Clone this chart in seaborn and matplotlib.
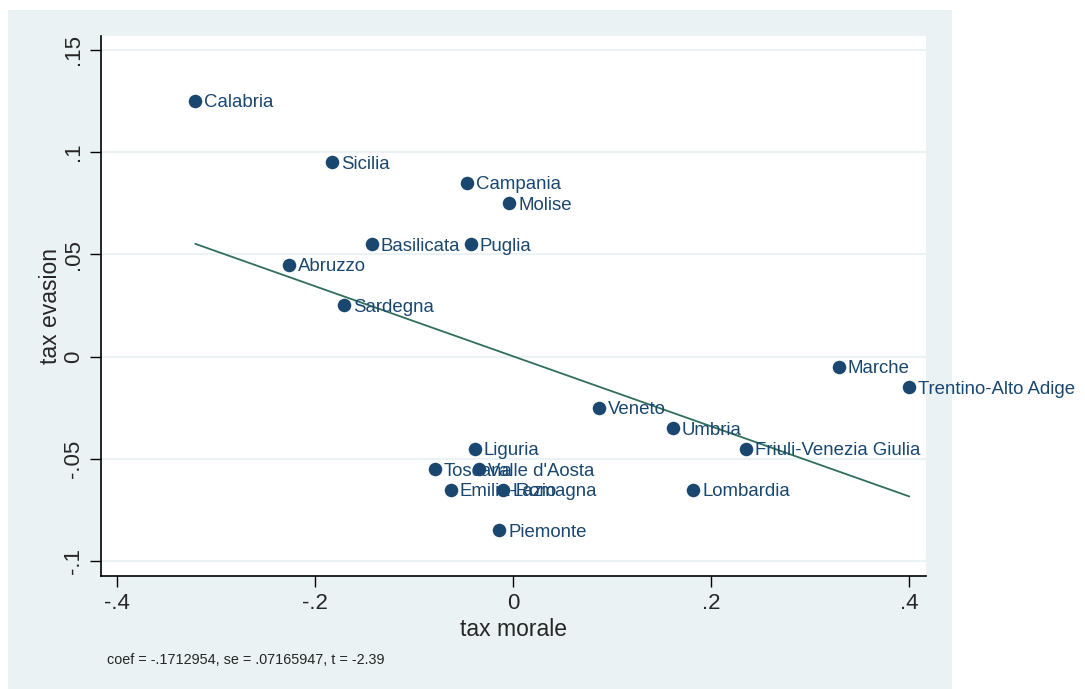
import numpy as np
import pandas as pd
import matplotlib.pyplot as plt
import seaborn as sns
from matplotlib.patches import Rectangle

regions = ['Calabria', 'Sicilia', 'Campania', 'Molise', 'Basilicata', 'Puglia',
           'Abruzzo', 'Sardegna', 'Marche', 'Trentino-Alto Adige', 'Veneto',
           'Umbria', 'Friuli-Venezia Giulia', 'Liguria', 'Toscana',
           "Valle d'Aosta", 'Emilia-Romagna', 'Lazio', 'Lombardia', 'Piemonte']
tax_morale = [-0.321, -0.183, -0.047, -0.004, -0.143, -0.043,
              -0.226, -0.171, 0.329, 0.400, 0.087,
              0.161, 0.235, -0.039, -0.079,
              -0.034, -0.063, -0.010, 0.182, -0.014]
tax_evasion = [0.125, 0.095, 0.085, 0.075, 0.055, 0.055,
               0.045, 0.025, -0.005, -0.015, -0.025,
               -0.035, -0.045, -0.045, -0.055,
               -0.055, -0.065, -0.065, -0.065, -0.085]
x_ticks = [-0.4, -0.2, 0, 0.2, 0.4]
x_tick_labels = ['-.4', '-.2', '0', '.2', '.4']
y_ticks = [-0.1, -0.05, 0, 0.05, 0.1, 0.15]
y_tick_labels = ['-.1', '-.05', '0', '.05', '.1', '.15']
note = 'coef = -.1712954, se = .07165947, t = -2.39'

df = pd.DataFrame({'region': regions, 'morale': tax_morale, 'evasion': tax_evasion})

sns.set_style('white')
plt.rcParams['font.family'] = ['Liberation Sans', 'DejaVu Sans']

navy = '#1a476f'
bg = '#eaf2f3'

fig = plt.figure(figsize=(10.85, 6.89), dpi=100, facecolor='white')
fig.patches.append(Rectangle((0.0074, 0), 0.870, 0.9855, transform=fig.transFigure,
                             facecolor=bg, edgecolor='none', zorder=-10))
ax = fig.add_axes([0.0931, 0.164, 0.7604, 0.7838])
ax.set_facecolor('white')

for yt in y_ticks:
    ax.axhline(yt, color=bg, lw=1.5, zorder=0)

# fitted line (avplot style)
sns.regplot(data=df, x='morale', y='evasion', scatter=False, ci=None, truncate=True,
            color='#2f6f5e', line_kws={'lw': 1.3}, ax=ax)
sns.scatterplot(data=df, x='morale', y='evasion', color=navy, s=95,
                edgecolor=navy, linewidth=0, ax=ax, zorder=3)

for _, row in df.iterrows():
    ax.annotate(row['region'], (row['morale'], row['evasion']), xytext=(6.5, 0),
                textcoords='offset points', va='center_baseline', ha='left',
                fontsize=13.4, color=navy, zorder=4, annotation_clip=False)

ax.set_xlim(-0.4162, 0.417)
ax.set_ylim(-0.1073, 0.1568)
ax.set_xticks(x_ticks)
ax.set_xticklabels(x_tick_labels, fontsize=16)
ax.set_yticks(y_ticks)
ax.set_yticklabels(y_tick_labels, fontsize=16, rotation=90, va='center')
ax.tick_params(axis='both', direction='out', length=8, width=1, color='black',
               left=True, bottom=True)
ax.tick_params(axis='x', pad=4)
ax.tick_params(axis='y', pad=4)

ax.set_xlabel('tax morale', fontsize=16.5, labelpad=3)
ax.set_ylabel('tax evasion', fontsize=16.5, labelpad=1)

for side in ['top', 'right']:
    ax.spines[side].set_visible(False)
for side in ['left', 'bottom']:
    ax.spines[side].set_color('black')
    ax.spines[side].set_linewidth(1.2)

fig.text(0.0986, 0.042, note, fontsize=10.4, va='center', ha='left')

plt.savefig('out.png', dpi=100, facecolor='white')
